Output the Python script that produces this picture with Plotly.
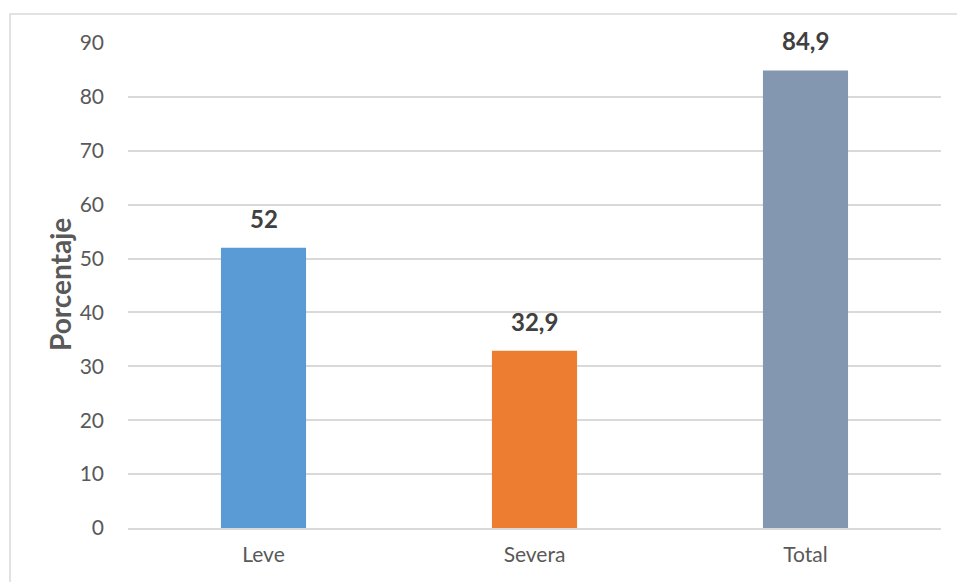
import plotly.graph_objects as go

categories = ["Leve", "Severa", "Total"]
values = [52, 32.9, 84.9]
labels = ["52", "32,9", "84,9"]
colors = ["#5B9BD5", "#ED7D31", "#8497B0"]
y_ticks = [0, 10, 20, 30, 40, 50, 60, 70, 80, 90]

W, H = 957, 582
L, R, T, B = 128, 16, 43, 54
pw, ph = W - L - R, H - T - B

def px_to_paper_x(px):
    return (px - L) / pw

def px_to_paper_y(py):
    return (H - B - py) / ph

fig = go.Figure()
fig.add_trace(go.Bar(
    x=categories, y=values, marker_color=colors, marker_line_width=0,
    width=0.314, showlegend=False, hoverinfo="skip",
))

for c, v, t in zip(categories, values, labels):
    fig.add_annotation(x=c, y=v, text="<b>%s</b>" % t, showarrow=False,
                       yanchor="bottom", yshift=13,
                       font=dict(family="Lato", size=24, color="#404040"))

fig.add_shape(type="rect", xref="paper", yref="paper",
              x0=px_to_paper_x(10), x1=px_to_paper_x(965),
              y0=px_to_paper_y(600), y1=px_to_paper_y(14),
              line=dict(color="#D9D9D9", width=1.5), fillcolor="rgba(0,0,0,0)",
              layer="below")

fig.update_layout(
    width=W, height=H,
    margin=dict(l=L, r=R, t=T, b=B),
    paper_bgcolor="white", plot_bgcolor="white",
    font=dict(family="Lato", color="#595959", size=20),
    xaxis=dict(showgrid=False, showline=True, linecolor="#D9D9D9", linewidth=1.5,
               ticks="", ticklabelstandoff=7, tickfont=dict(size=21, color="#595959")),
    yaxis=dict(range=[0, 90], tickvals=y_ticks, showgrid=True, gridcolor="#D9D9D9",
               gridwidth=1.5, zeroline=False, showline=False, ticks="",
               ticklabelstandoff=23, tickfont=dict(size=21, color="#595959")),
)
fig.add_annotation(text="<b>Porcentaje</b>", xref="paper", yref="paper",
                   x=px_to_paper_x(60), y=px_to_paper_y(285), textangle=-90,
                   showarrow=False, xanchor="center", yanchor="middle",
                   font=dict(family="Lato", size=28, color="#595959"))

fig.write_html("out.html")
